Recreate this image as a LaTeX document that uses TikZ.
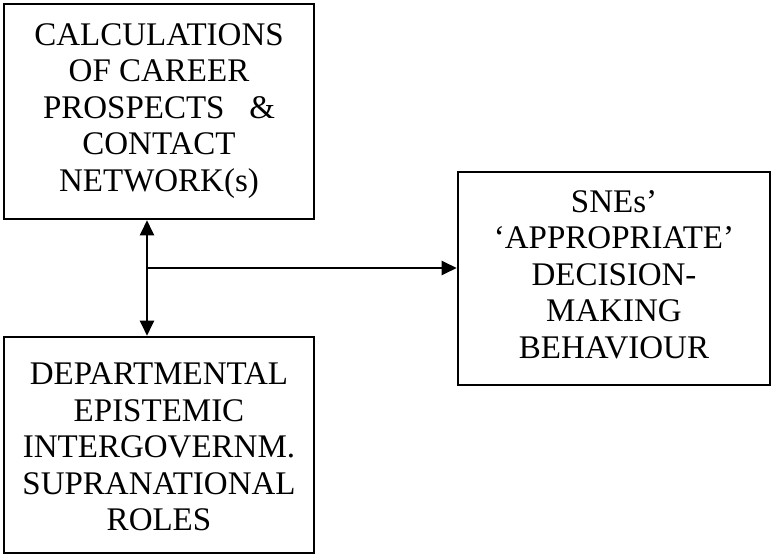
\documentclass[tikz,border=0pt]{standalone}
\usepackage{fontspec}
\setmainfont{Liberation Serif}
\usetikzlibrary{arrows.meta}

\tikzset{
  box/.style={draw, line width=2.6pt, rectangle, inner sep=0pt},
  boxtext/.style={anchor=north, align=center, inner sep=0pt,
    font=\fontsize{33pt}{36.5pt}\selectfont},
  link/.style={line width=2.4pt, arrows={-Triangle[length=15pt,width=14pt]}},
  dlink/.style={line width=2.4pt, arrows={Triangle[length=15pt,width=14pt]-Triangle[length=15pt,width=14pt]}}
}

\begin{document}
\begin{tikzpicture}[x=1pt, y=-1pt]
  \useasboundingbox (0,0) rectangle (772,556);
  % Boxes
  \node[box, minimum width=310pt, minimum height=215pt] (calc) at (159,111.5) {};
  \node[box, minimum width=310pt, minimum height=216pt] (roles) at (159,445) {};
  \node[box, minimum width=312pt, minimum height=213pt] (sne) at (614,278.5) {};

  % Texts
  \node[boxtext] (calctext) at (159,23) {CALCULATIONS\\OF CAREER\\PROSPECTS~~~\&\\CONTACT\\NETWORK(s)};
  \node[boxtext] (rolestext) at (159,363) {DEPARTMENTAL\\EPISTEMIC\\INTERGOVERNM.\\SUPRANATIONAL\\ROLES};
  \node[boxtext] (snetext) at (614,190) {SNEs’\\‘APPROPRIATE’\\DECISION-\\MAKING\\BEHAVIOUR};

  % Connectors
  \coordinate (J) at (147,268);
  \draw[dlink] (calc.south -| J) -- (roles.north -| J);
  \draw[link] (J) -- (J -| sne.west);
\end{tikzpicture}
\end{document}
